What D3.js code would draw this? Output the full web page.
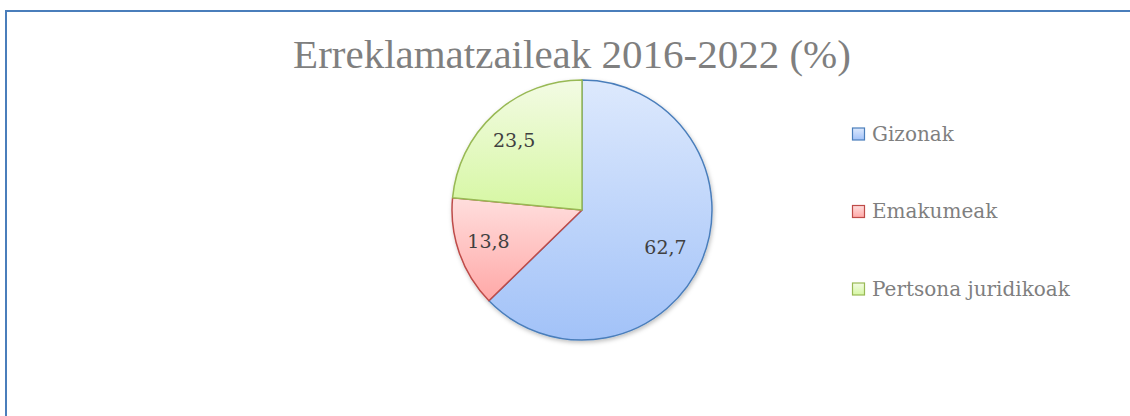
<!DOCTYPE html>
<html>
<head>
<meta charset="utf-8">
<script src="https://cdn.jsdelivr.net/npm/d3@7"></script>
<style>
body { margin: 0; background: #fff; }
text { font-family: 'DejaVu Serif', serif; }
</style>
</head>
<body>
<script>
const WIDTH = 1130
const HEIGHT = 416

const TITLE = 'Erreklamatzaileak 2016-2022 (%)'
const categories = ['Gizonak', 'Emakumeak', 'Pertsona juridikoak']
const values = [62.7, 13.8, 23.5]

// colours per slice: gradient top, gradient bottom, outline
const topColors = ['#dde9fd', '#ffdedd', '#f3fbe4']
const bottomColors = ['#a2c2f8', '#ffa8a7', '#d6f7a3']
const strokeColors = ['#4a7ebb', '#be4b48', '#98b954']

const CX = 582
const CY = 210
const R = 130

const svg = d3.select('body')
    .append('svg')
    .attr('width', WIDTH)
    .attr('height', HEIGHT)

const defs = svg.append('defs')

categories.forEach((c, i) => {
    const g = defs.append('linearGradient')
        .attr('id', 'grad' + i)
        .attr('x1', 0).attr('y1', 0)
        .attr('x2', 0).attr('y2', 1)
    g.append('stop').attr('offset', '0%').attr('stop-color', topColors[i])
    g.append('stop').attr('offset', '100%').attr('stop-color', bottomColors[i])
})

const shadow = defs.append('filter')
    .attr('id', 'shadow')
    .attr('x', '-20%').attr('y', '-20%')
    .attr('width', '140%').attr('height', '140%')
shadow.append('feDropShadow')
    .attr('dx', 1).attr('dy', 2)
    .attr('stdDeviation', 2)
    .attr('flood-color', '#000')
    .attr('flood-opacity', 0.25)

// chart frame (runs off the right and bottom of the picture)
svg.append('rect')
    .attr('x', 6)
    .attr('y', 11)
    .attr('width', 1200)
    .attr('height', 500)
    .attr('fill', '#fff')
    .attr('stroke', '#4a7ebb')
    .attr('stroke-width', 2)

svg.append('text')
    .attr('x', 572)
    .attr('y', 68)
    .attr('text-anchor', 'middle')
    .style('font-family', "'Liberation Serif', serif")
    .attr('font-size', 41)
    .attr('fill', '#7f7f7f')
    .text(TITLE)

const pie = d3.pie().sort(null).value(d => d)
const arcs = pie(values)

const arc = d3.arc().innerRadius(0).outerRadius(R)
const labelArc = d3.arc().innerRadius(R * 0.73).outerRadius(R * 0.73)

const fmt = d3.formatLocale({ decimal: ',', thousands: '.', grouping: [3], currency: ['', ''] }).format('.1f')

const gPie = svg.append('g')
    .attr('transform', `translate(${CX}, ${CY})`)

gPie.append('g')
    .attr('filter', 'url(#shadow)')
    .selectAll('path')
    .data(arcs)
    .enter()
    .append('path')
    .attr('d', arc)
    .attr('fill', (d, i) => `url(#grad${i})`)
    .attr('stroke', (d, i) => strokeColors[i])
    .attr('stroke-width', 1.5)
    .attr('stroke-linejoin', 'round')

gPie.selectAll('text')
    .data(arcs)
    .enter()
    .append('text')
    .attr('transform', d => `translate(${labelArc.centroid(d)})`)
    .attr('text-anchor', 'middle')
    .attr('dx', -4)
    .attr('dy', '0.36em')
    .attr('font-size', 19)
    .attr('fill', '#404040')
    .text(d => fmt(d.data))

const LEGEND_X = 852
const LEGEND_Y = 133.5
const LEGEND_STEP = 77.5

const legend = svg.append('g')
    .selectAll('g')
    .data(categories)
    .enter()
    .append('g')
    .attr('transform', (d, i) => `translate(${LEGEND_X}, ${LEGEND_Y + i * LEGEND_STEP})`)

legend.append('rect')
    .attr('x', 0.5)
    .attr('y', -5.5)
    .attr('width', 12)
    .attr('height', 12)
    .attr('fill', (d, i) => `url(#grad${i})`)
    .attr('stroke', (d, i) => strokeColors[i])
    .attr('stroke-width', 1.2)

legend.append('text')
    .attr('x', 20)
    .attr('y', 0)
    .attr('dy', '0.35em')
    .attr('font-size', 20)
    .attr('fill', '#7f7f7f')
    .text(d => d)
</script>
</body>
</html>
